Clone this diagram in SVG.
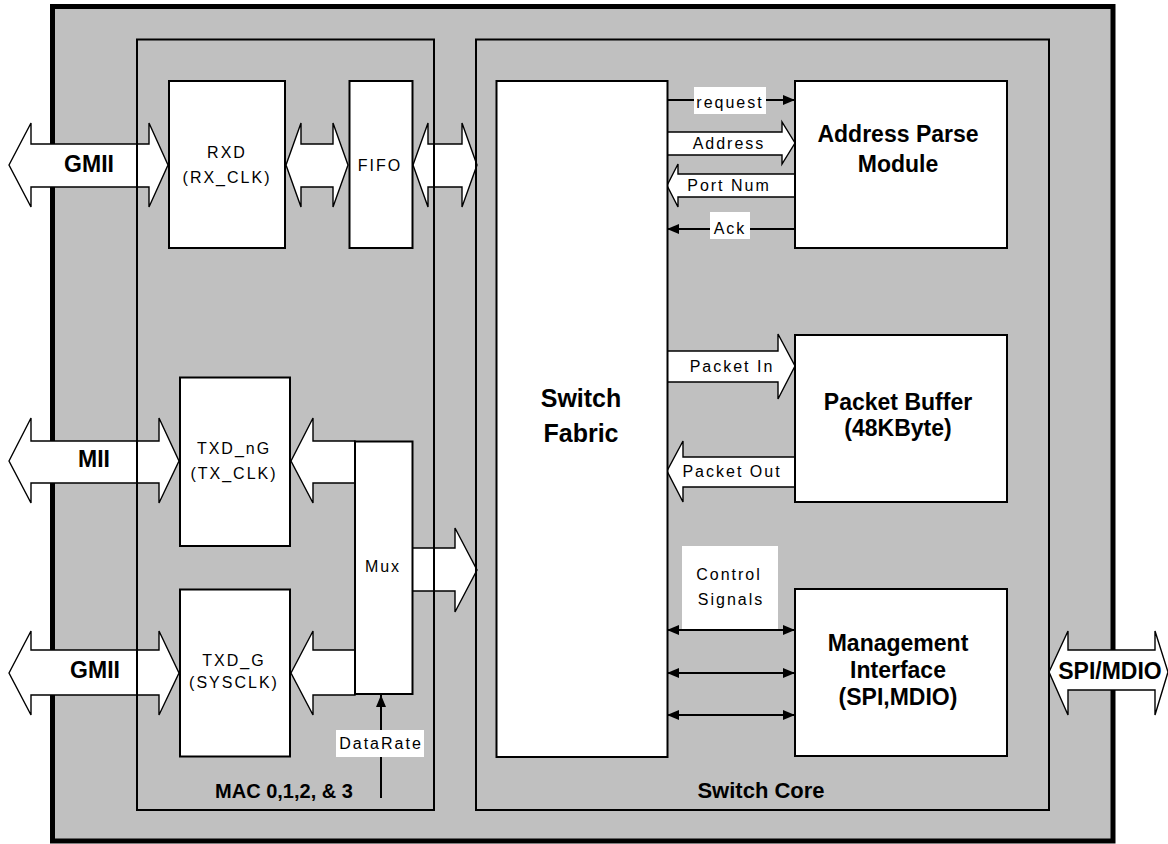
<svg xmlns="http://www.w3.org/2000/svg" width="1168" height="844" viewBox="0 0 1168 844">
<style>
.frame{fill:#C0C0C0;stroke:#000;stroke-width:5}
.cont{fill:none;stroke:#000;stroke-width:2}
.box{fill:#fff;stroke:#000;stroke-width:2}
.big{fill:#fff;stroke:#000;stroke-width:1.4;stroke-linejoin:miter}
.ln{fill:none;stroke:#000;stroke-width:2}
.lbl{fill:#fff;stroke:none}
.t{font-family:"Liberation Sans",Arial,sans-serif;font-size:16px;letter-spacing:2px;text-anchor:middle;fill:#000}
.b{font-family:"Liberation Sans",Arial,sans-serif;font-size:23px;font-weight:bold;text-anchor:middle;fill:#000}
.bs{font-family:"Liberation Sans",Arial,sans-serif;font-size:20px;font-weight:bold;text-anchor:middle;fill:#000}
.bf{font-family:"Liberation Sans",Arial,sans-serif;font-size:25px;font-weight:bold;text-anchor:middle;fill:#000}
</style>
<defs>
<marker id="ah" markerUnits="userSpaceOnUse" markerWidth="12" markerHeight="10" refX="12" refY="5" orient="auto-start-reverse">
<path d="M0,0 L12,5 L0,10 Z" fill="#000"/>
</marker>
</defs>
<rect width="1168" height="844" fill="#fff"/>
<g id="chip">
<rect class="frame" x="52.5" y="6.5" width="1060.5" height="834.5"/>
</g>
<g id="connectors">
<path class="big" d="M9,165 L31,123 L31,144 L149,144 L149,123 L168,165 L149,207 L149,187 L31,187 L31,207 Z"/>
<path class="big" d="M286,165 L301,123 L301,144 L333,144 L333,123 L348,165 L333,207 L333,187 L301,187 L301,207 Z"/>
<path class="big" d="M413,165 L428,123 L428,144 L462,144 L462,123 L477,165 L462,207 L462,187 L428,187 L428,207 Z"/>
<path class="big" d="M9,461 L31,418 L31,441 L159,441 L159,418 L179,461 L159,503 L159,483 L31,483 L31,503 Z"/>
<path class="big" d="M291,461 L313,418 L313,441 L355,441 L355,483 L313,483 L313,503 Z"/>
<path class="big" d="M9,673 L31,631 L31,650 L159,650 L159,631 L179,673 L159,715 L159,695 L31,695 L31,715 Z"/>
<path class="big" d="M291,673 L313,631 L313,650 L355,650 L355,695 L313,695 L313,715 Z"/>
<path class="big" d="M412,548 L455,548 L455,528 L477,570 L455,612 L455,591 L412,591 Z"/>
<path class="big" d="M667,132 L782,132 L782,122 L795,143 L782,164 L782,155 L667,155 Z"/>
<path class="big" d="M795,174 L678,174 L678,164 L667,185.5 L678,207 L678,197 L795,197 Z"/>
<path class="big" d="M667,351 L778,351 L778,334 L795,366 L778,399 L778,382 L667,382 Z"/>
<path class="big" d="M795,457 L683,457 L683,441 L667,471 L683,502 L683,487 L795,487 Z"/>
<path class="big" d="M1049,672 L1068,631 L1068,650 L1155,650 L1155,631 L1168,672 L1155,715 L1155,690 L1068,690 L1068,715 Z"/>
<line class="ln" x1="667" y1="100" x2="795" y2="100" marker-end="url(#ah)"/>
<line class="ln" x1="795" y1="229" x2="667" y2="229" marker-end="url(#ah)"/>
<rect class="lbl" x="682" y="546" width="96" height="83"/>
<line class="ln" x1="667" y1="630" x2="795" y2="630" marker-start="url(#ah)" marker-end="url(#ah)"/>
<line class="ln" x1="667" y1="673" x2="795" y2="673" marker-start="url(#ah)" marker-end="url(#ah)"/>
<line class="ln" x1="667" y1="715" x2="795" y2="715" marker-start="url(#ah)" marker-end="url(#ah)"/>
<line class="ln" x1="381" y1="798" x2="381" y2="695" marker-end="url(#ah)"/>
<rect class="lbl" x="694" y="87" width="72" height="27"/>
<rect class="lbl" x="710" y="212" width="40" height="27"/>
<rect class="lbl" x="336" y="730" width="88" height="27"/>
<text class="bs" x="89" y="172" style="font-size:23px">GMII</text>
<text class="bs" x="94" y="467" style="font-size:23px">MII</text>
<text class="bs" x="95" y="678" style="font-size:23px">GMII</text>
<text class="bs" x="1110" y="679" style="font-size:23px">SPI/MDIO</text>
<text class="t" x="730" y="108">request</text>
<text class="t" x="729" y="149">Address</text>
<text class="t" x="729" y="191">Port Num</text>
<text class="t" x="730" y="234">Ack</text>
<text class="t" x="732" y="372">Packet In</text>
<text class="t" x="732" y="477">Packet Out</text>
<text class="t" x="729" y="580">Control</text>
<text class="t" x="731" y="605">Signals</text>
<text class="t" x="381" y="749">DataRate</text>
</g>
<g id="mac">
<rect class="cont" x="137" y="39.5" width="297" height="770.5"/>
<text class="bs" x="284" y="798">MAC 0,1,2, &amp; 3</text>
</g>
<g id="switch-core">
<rect class="cont" x="476" y="39.5" width="573" height="770.5"/>
<text class="bs" x="761" y="798" style="font-size:22px">Switch Core</text>
</g>
<g id="rxd">
<rect class="box" x="169" y="81" width="116" height="167"/>
<text class="t" x="227" y="158">RXD</text>
<text class="t" x="227" y="183">(RX_CLK)</text>
</g>
<g id="fifo">
<rect class="box" x="349.5" y="81" width="63" height="167"/>
<text class="t" x="380" y="171">FIFO</text>
</g>
<g id="txd-ng">
<rect class="box" x="180" y="377.5" width="110" height="168.5"/>
<text class="t" x="234" y="454">TXD_nG</text>
<text class="t" x="234" y="479">(TX_CLK)</text>
</g>
<g id="txd-g">
<rect class="box" x="180" y="589.5" width="110" height="167"/>
<text class="t" x="234" y="666">TXD_G</text>
<text class="t" x="234" y="688">(SYSCLK)</text>
</g>
<g id="mux">
<rect class="box" x="355" y="441.5" width="57.5" height="252.5"/>
<text class="t" x="383" y="572">Mux</text>
</g>
<g id="switch-fabric">
<rect class="box" x="496.5" y="81" width="171" height="676"/>
<text class="bf" x="581" y="407">Switch</text>
<text class="bf" x="581" y="442">Fabric</text>
</g>
<g id="address-parse">
<rect class="box" x="795" y="81" width="212" height="167"/>
<text class="b" x="898" y="142">Address Parse</text>
<text class="b" x="898" y="172">Module</text>
</g>
<g id="packet-buffer">
<rect class="box" x="795" y="335" width="212" height="167"/>
<text class="b" x="898" y="410">Packet Buffer</text>
<text class="b" x="898" y="436">(48KByte)</text>
</g>
<g id="management">
<rect class="box" x="795" y="589" width="212" height="167"/>
<text class="b" x="898" y="651">Management</text>
<text class="b" x="898" y="678">Interface</text>
<text class="b" x="898" y="705">(SPI,MDIO)</text>
</g>
</svg>
